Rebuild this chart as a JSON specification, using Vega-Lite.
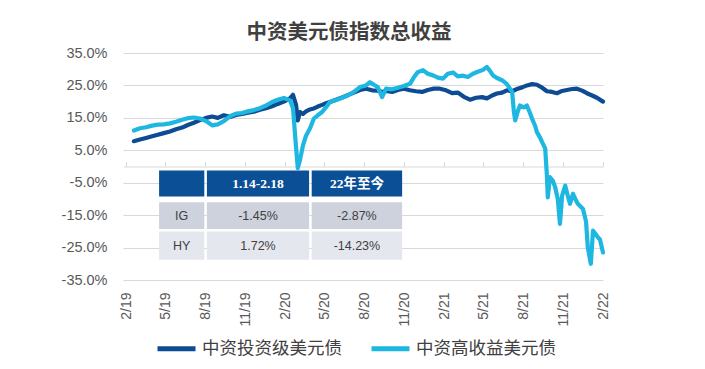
{
  "$schema": "https://vega.github.io/schema/vega-lite/v6.json",
  "width": 480,
  "height": 227,
  "autosize": {"type": "none"},
  "padding": {"left": 123, "top": 53, "right": 102, "bottom": 89},
  "background": "white",
  "config": {
    "view": {"stroke": null},
    "font": "Liberation Sans",
    "legend": {
      "orient": "none", "legendX": 32, "legendY": 274, "direction": "horizontal",
      "symbolType": "stroke", "symbolSize": 1444, "symbolStrokeWidth": 5,
      "labelFont": "Noto Sans CJK SC", "labelFontSize": 17.5, "labelColor": "#404040",
      "columnPadding": 19, "labelOffset": 4, "title": null
    }
  },
  "title": {
    "text": "中资美元债指数总收益", "font": "Noto Sans CJK SC", "fontSize": 20.5,
    "fontWeight": "bold", "color": "#404040", "anchor": "middle", "dx": -14, "offset": 2
  },
  "datasets": {
    "series": [
      {"date":"2019-03-07","s":"中资投资级美元债","v":7.8},
      {"date":"2019-03-21","s":"中资投资级美元债","v":8.3},
      {"date":"2019-04-04","s":"中资投资级美元债","v":8.8},
      {"date":"2019-04-18","s":"中资投资级美元债","v":9.3},
      {"date":"2019-05-01","s":"中资投资级美元债","v":9.8},
      {"date":"2019-05-15","s":"中资投资级美元债","v":10.3},
      {"date":"2019-05-29","s":"中资投资级美元债","v":10.8},
      {"date":"2019-06-12","s":"中资投资级美元债","v":11.5},
      {"date":"2019-06-26","s":"中资投资级美元债","v":12.0},
      {"date":"2019-07-09","s":"中资投资级美元债","v":12.8},
      {"date":"2019-07-23","s":"中资投资级美元债","v":13.5},
      {"date":"2019-08-06","s":"中资投资级美元债","v":14.3},
      {"date":"2019-08-20","s":"中资投资级美元债","v":15.0},
      {"date":"2019-09-03","s":"中资投资级美元债","v":15.4},
      {"date":"2019-09-16","s":"中资投资级美元债","v":15.0},
      {"date":"2019-09-30","s":"中资投资级美元债","v":15.8},
      {"date":"2019-10-14","s":"中资投资级美元债","v":15.3},
      {"date":"2019-10-28","s":"中资投资级美元债","v":15.9},
      {"date":"2019-11-11","s":"中资投资级美元债","v":16.2},
      {"date":"2019-11-24","s":"中资投资级美元债","v":16.6},
      {"date":"2019-12-08","s":"中资投资级美元债","v":16.9},
      {"date":"2019-12-22","s":"中资投资级美元债","v":17.5},
      {"date":"2020-01-05","s":"中资投资级美元债","v":18.0},
      {"date":"2020-01-19","s":"中资投资级美元债","v":18.6},
      {"date":"2020-02-01","s":"中资投资级美元债","v":19.3},
      {"date":"2020-02-15","s":"中资投资级美元债","v":20.0},
      {"date":"2020-02-29","s":"中资投资级美元债","v":21.0},
      {"date":"2020-03-07","s":"中资投资级美元债","v":22.1},
      {"date":"2020-03-14","s":"中资投资级美元债","v":19.0},
      {"date":"2020-03-18","s":"中资投资级美元债","v":14.2},
      {"date":"2020-03-23","s":"中资投资级美元债","v":16.8},
      {"date":"2020-03-30","s":"中资投资级美元债","v":16.2},
      {"date":"2020-04-06","s":"中资投资级美元债","v":17.0},
      {"date":"2020-04-15","s":"中资投资级美元债","v":17.6},
      {"date":"2020-04-24","s":"中资投资级美元债","v":17.9},
      {"date":"2020-05-03","s":"中资投资级美元债","v":18.5},
      {"date":"2020-05-13","s":"中资投资级美元债","v":19.0},
      {"date":"2020-05-22","s":"中资投资级美元债","v":19.5},
      {"date":"2020-05-31","s":"中资投资级美元债","v":19.9},
      {"date":"2020-06-14","s":"中资投资级美元债","v":20.6},
      {"date":"2020-06-28","s":"中资投资级美元债","v":21.3},
      {"date":"2020-07-11","s":"中资投资级美元债","v":22.0},
      {"date":"2020-07-25","s":"中资投资级美元债","v":22.8},
      {"date":"2020-08-08","s":"中资投资级美元债","v":23.6},
      {"date":"2020-08-22","s":"中资投资级美元债","v":24.0},
      {"date":"2020-09-05","s":"中资投资级美元债","v":23.5},
      {"date":"2020-09-18","s":"中资投资级美元债","v":23.4},
      {"date":"2020-09-28","s":"中资投资级美元债","v":23.0},
      {"date":"2020-10-07","s":"中资投资级美元债","v":23.3},
      {"date":"2020-10-21","s":"中资投资级美元债","v":23.0},
      {"date":"2020-11-03","s":"中资投资级美元债","v":23.6},
      {"date":"2020-11-17","s":"中资投资级美元债","v":24.0},
      {"date":"2020-12-01","s":"中资投资级美元债","v":23.5},
      {"date":"2020-12-15","s":"中资投资级美元债","v":23.2},
      {"date":"2020-12-29","s":"中资投资级美元债","v":23.0},
      {"date":"2021-01-11","s":"中资投资级美元债","v":23.6},
      {"date":"2021-01-25","s":"中资投资级美元债","v":24.0},
      {"date":"2021-02-08","s":"中资投资级美元债","v":24.0},
      {"date":"2021-02-22","s":"中资投资级美元债","v":23.5},
      {"date":"2021-03-08","s":"中资投资级美元债","v":22.6},
      {"date":"2021-03-21","s":"中资投资级美元债","v":22.8},
      {"date":"2021-04-04","s":"中资投资级美元债","v":21.5},
      {"date":"2021-04-18","s":"中资投资级美元债","v":20.6},
      {"date":"2021-05-02","s":"中资投资级美元债","v":21.2},
      {"date":"2021-05-16","s":"中资投资级美元债","v":21.4},
      {"date":"2021-05-27","s":"中资投资级美元债","v":21.0},
      {"date":"2021-06-08","s":"中资投资级美元债","v":21.9},
      {"date":"2021-06-19","s":"中资投资级美元债","v":22.5},
      {"date":"2021-07-01","s":"中资投资级美元债","v":22.8},
      {"date":"2021-07-12","s":"中资投资级美元债","v":23.5},
      {"date":"2021-07-24","s":"中资投资级美元债","v":23.2},
      {"date":"2021-08-06","s":"中资投资级美元债","v":24.0},
      {"date":"2021-08-16","s":"中资投资级美元债","v":24.4},
      {"date":"2021-08-27","s":"中资投资级美元债","v":25.0},
      {"date":"2021-09-08","s":"中资投资级美元债","v":25.4},
      {"date":"2021-09-19","s":"中资投资级美元债","v":25.2},
      {"date":"2021-10-01","s":"中资投资级美元债","v":24.3},
      {"date":"2021-10-12","s":"中资投资级美元债","v":23.2},
      {"date":"2021-10-24","s":"中资投资级美元债","v":23.0},
      {"date":"2021-11-04","s":"中资投资级美元债","v":22.6},
      {"date":"2021-11-16","s":"中资投资级美元债","v":23.3},
      {"date":"2021-11-27","s":"中资投资级美元债","v":23.6},
      {"date":"2021-12-09","s":"中资投资级美元债","v":23.9},
      {"date":"2021-12-20","s":"中资投资级美元债","v":24.0},
      {"date":"2022-01-01","s":"中资投资级美元债","v":23.4},
      {"date":"2022-01-12","s":"中资投资级美元债","v":22.6},
      {"date":"2022-01-24","s":"中资投资级美元债","v":21.9},
      {"date":"2022-02-04","s":"中资投资级美元债","v":21.2},
      {"date":"2022-02-18","s":"中资投资级美元债","v":20.0},
      {"date":"2019-03-07","s":"中资高收益美元债","v":11.1},
      {"date":"2019-03-21","s":"中资高收益美元债","v":11.8},
      {"date":"2019-04-04","s":"中资高收益美元债","v":12.1},
      {"date":"2019-04-18","s":"中资高收益美元债","v":12.6},
      {"date":"2019-05-01","s":"中资高收益美元债","v":12.9},
      {"date":"2019-05-15","s":"中资高收益美元债","v":13.0},
      {"date":"2019-05-29","s":"中资高收益美元债","v":13.3},
      {"date":"2019-06-12","s":"中资高收益美元债","v":13.8},
      {"date":"2019-06-26","s":"中资高收益美元债","v":14.4},
      {"date":"2019-07-09","s":"中资高收益美元债","v":14.9},
      {"date":"2019-07-23","s":"中资高收益美元债","v":15.1},
      {"date":"2019-08-06","s":"中资高收益美元债","v":14.8},
      {"date":"2019-08-20","s":"中资高收益美元债","v":14.0},
      {"date":"2019-09-03","s":"中资高收益美元债","v":12.7},
      {"date":"2019-09-16","s":"中资高收益美元债","v":13.0},
      {"date":"2019-09-30","s":"中资高收益美元债","v":14.0},
      {"date":"2019-10-14","s":"中资高收益美元债","v":15.5},
      {"date":"2019-10-28","s":"中资高收益美元债","v":16.3},
      {"date":"2019-11-11","s":"中资高收益美元债","v":16.5},
      {"date":"2019-11-24","s":"中资高收益美元债","v":17.0},
      {"date":"2019-12-08","s":"中资高收益美元债","v":17.4},
      {"date":"2019-12-22","s":"中资高收益美元债","v":18.0},
      {"date":"2020-01-05","s":"中资高收益美元债","v":18.8},
      {"date":"2020-01-19","s":"中资高收益美元债","v":19.9},
      {"date":"2020-02-01","s":"中资高收益美元债","v":20.6},
      {"date":"2020-02-15","s":"中资高收益美元债","v":21.1},
      {"date":"2020-02-29","s":"中资高收益美元债","v":20.4},
      {"date":"2020-03-07","s":"中资高收益美元债","v":18.0},
      {"date":"2020-03-14","s":"中资高收益美元债","v":6.0},
      {"date":"2020-03-18","s":"中资高收益美元债","v":-0.5},
      {"date":"2020-03-23","s":"中资高收益美元债","v":2.0},
      {"date":"2020-03-30","s":"中资高收益美元债","v":6.5},
      {"date":"2020-04-06","s":"中资高收益美元债","v":9.5},
      {"date":"2020-04-15","s":"中资高收益美元债","v":11.7},
      {"date":"2020-04-24","s":"中资高收益美元债","v":14.8},
      {"date":"2020-05-03","s":"中资高收益美元债","v":15.8},
      {"date":"2020-05-13","s":"中资高收益美元债","v":16.8},
      {"date":"2020-05-22","s":"中资高收益美元债","v":18.3},
      {"date":"2020-05-31","s":"中资高收益美元债","v":19.9},
      {"date":"2020-06-14","s":"中资高收益美元债","v":20.5},
      {"date":"2020-06-28","s":"中资高收益美元债","v":21.2},
      {"date":"2020-07-11","s":"中资高收益美元债","v":21.9},
      {"date":"2020-07-25","s":"中资高收益美元债","v":23.0},
      {"date":"2020-08-08","s":"中资高收益美元债","v":24.5},
      {"date":"2020-08-22","s":"中资高收益美元债","v":25.0},
      {"date":"2020-08-31","s":"中资高收益美元债","v":26.0},
      {"date":"2020-09-09","s":"中资高收益美元债","v":25.2},
      {"date":"2020-09-18","s":"中资高收益美元债","v":24.5},
      {"date":"2020-09-28","s":"中资高收益美元债","v":21.4},
      {"date":"2020-10-07","s":"中资高收益美元债","v":24.0},
      {"date":"2020-10-21","s":"中资高收益美元债","v":23.8},
      {"date":"2020-11-03","s":"中资高收益美元债","v":24.3},
      {"date":"2020-11-17","s":"中资高收益美元债","v":24.8},
      {"date":"2020-12-01","s":"中资高收益美元债","v":25.5},
      {"date":"2020-12-10","s":"中资高收益美元债","v":27.5},
      {"date":"2020-12-19","s":"中资高收益美元债","v":29.1},
      {"date":"2020-12-31","s":"中资高收益美元债","v":29.7},
      {"date":"2021-01-11","s":"中资高收益美元债","v":28.6},
      {"date":"2021-01-23","s":"中资高收益美元债","v":28.1},
      {"date":"2021-02-03","s":"中资高收益美元债","v":27.4},
      {"date":"2021-02-15","s":"中资高收益美元债","v":27.1},
      {"date":"2021-02-26","s":"中资高收益美元债","v":28.6},
      {"date":"2021-03-10","s":"中资高收益美元债","v":29.0},
      {"date":"2021-03-21","s":"中资高收益美元债","v":27.8},
      {"date":"2021-04-02","s":"中资高收益美元债","v":28.0},
      {"date":"2021-04-13","s":"中资高收益美元债","v":27.6},
      {"date":"2021-04-25","s":"中资高收益美元债","v":28.6},
      {"date":"2021-05-06","s":"中资高收益美元债","v":29.2},
      {"date":"2021-05-18","s":"中资高收益美元债","v":29.8},
      {"date":"2021-05-27","s":"中资高收益美元债","v":30.7},
      {"date":"2021-06-03","s":"中资高收益美元债","v":29.5},
      {"date":"2021-06-10","s":"中资高收益美元债","v":28.1},
      {"date":"2021-06-19","s":"中资高收益美元债","v":27.3},
      {"date":"2021-07-01","s":"中资高收益美元债","v":26.6},
      {"date":"2021-07-12","s":"中资高收益美元债","v":25.4},
      {"date":"2021-07-19","s":"中资高收益美元债","v":24.0},
      {"date":"2021-07-24","s":"中资高收益美元债","v":23.0},
      {"date":"2021-07-28","s":"中资高收益美元债","v":17.0},
      {"date":"2021-07-31","s":"中资高收益美元债","v":14.2},
      {"date":"2021-08-06","s":"中资高收益美元债","v":17.0},
      {"date":"2021-08-11","s":"中资高收益美元债","v":18.8},
      {"date":"2021-08-20","s":"中资高收益美元债","v":18.2},
      {"date":"2021-08-27","s":"中资高收益美元债","v":18.8},
      {"date":"2021-09-03","s":"中资高收益美元债","v":16.5},
      {"date":"2021-09-08","s":"中资高收益美元债","v":14.7},
      {"date":"2021-09-15","s":"中资高收益美元债","v":12.5},
      {"date":"2021-09-19","s":"中资高收益美元债","v":10.6},
      {"date":"2021-09-26","s":"中资高收益美元债","v":9.0},
      {"date":"2021-10-01","s":"中资高收益美元债","v":7.5},
      {"date":"2021-10-08","s":"中资高收益美元债","v":5.6},
      {"date":"2021-10-12","s":"中资高收益美元债","v":-2.8},
      {"date":"2021-10-14","s":"中资高收益美元债","v":-9.5},
      {"date":"2021-10-19","s":"中资高收益美元债","v":-3.3},
      {"date":"2021-10-26","s":"中资高收益美元债","v":-4.5},
      {"date":"2021-10-31","s":"中资高收益美元债","v":-6.4},
      {"date":"2021-11-06","s":"中资高收益美元债","v":-10.0},
      {"date":"2021-11-11","s":"中资高收益美元债","v":-17.7},
      {"date":"2021-11-16","s":"中资高收益美元债","v":-9.0},
      {"date":"2021-11-23","s":"中资高收益美元债","v":-5.9},
      {"date":"2021-11-29","s":"中资高收益美元债","v":-9.0},
      {"date":"2021-12-04","s":"中资高收益美元债","v":-11.5},
      {"date":"2021-12-11","s":"中资高收益美元债","v":-8.4},
      {"date":"2021-12-18","s":"中资高收益美元债","v":-10.5},
      {"date":"2021-12-22","s":"中资高收益美元债","v":-11.5},
      {"date":"2022-01-03","s":"中资高收益美元债","v":-13.1},
      {"date":"2022-01-10","s":"中资高收益美元债","v":-17.0},
      {"date":"2022-01-14","s":"中资高收益美元债","v":-24.9},
      {"date":"2022-01-21","s":"中资高收益美元债","v":-30.0},
      {"date":"2022-01-26","s":"中资高收益美元债","v":-19.8},
      {"date":"2022-02-02","s":"中资高收益美元债","v":-21.0},
      {"date":"2022-02-06","s":"中资高收益美元债","v":-21.8},
      {"date":"2022-02-11","s":"中资高收益美元债","v":-22.5},
      {"date":"2022-02-18","s":"中资高收益美元债","v":-26.5}
    ],
    "table": [
      {"row":"header","col":"label","text":"","from":"2019-05-04","to":"2019-08-16","top":-1.24,"bottom":-9.27},
      {"row":"header","col":"p1","text":"1.14-2.18","from":"2019-08-22","to":"2020-04-13","top":-1.24,"bottom":-9.27},
      {"row":"header","col":"p2","text":"22年至今","from":"2020-04-19","to":"2020-11-13","top":-1.24,"bottom":-9.27},
      {"row":"IG","col":"label","text":"IG","from":"2019-05-04","to":"2019-08-16","top":-11.03,"bottom":-19.25},
      {"row":"IG","col":"p1","text":"-1.45%","from":"2019-08-22","to":"2020-04-13","top":-11.03,"bottom":-19.25},
      {"row":"IG","col":"p2","text":"-2.87%","from":"2020-04-19","to":"2020-11-13","top":-11.03,"bottom":-19.25},
      {"row":"HY","col":"label","text":"HY","from":"2019-05-04","to":"2019-08-16","top":-20.08,"bottom":-28.73},
      {"row":"HY","col":"p1","text":"1.72%","from":"2019-08-22","to":"2020-04-13","top":-20.08,"bottom":-28.73},
      {"row":"HY","col":"p2","text":"-14.23%","from":"2020-04-19","to":"2020-11-13","top":-20.08,"bottom":-28.73}
    ]
  },
  "resolve": {"axis": {"x": "independent"}},
  "layer": [
    {
      "data": {"name": "series"},
      "mark": {"type": "line", "strokeWidth": 4.2, "strokeJoin": "round", "strokeCap": "round"},
      "encoding": {
        "x": {
          "field": "date", "type": "temporal", "title": null,
          "scale": {"type": "utc", "domain": [{"year":2019,"month":2,"date":10,"utc":true},{"year":2022,"month":2,"date":18,"utc":true}]},
          "axis": {
            "orient": "bottom", "tickCount": 13,
            "values": [
              {"year":2019,"month":2,"date":18,"utc":true},{"year":2019,"month":5,"date":18,"utc":true},
              {"year":2019,"month":8,"date":18,"utc":true},{"year":2019,"month":11,"date":18,"utc":true},
              {"year":2020,"month":2,"date":18,"utc":true},{"year":2020,"month":5,"date":18,"utc":true},
              {"year":2020,"month":8,"date":18,"utc":true},{"year":2020,"month":11,"date":18,"utc":true},
              {"year":2021,"month":2,"date":18,"utc":true},{"year":2021,"month":5,"date":18,"utc":true},
              {"year":2021,"month":8,"date":18,"utc":true},{"year":2021,"month":11,"date":18,"utc":true},
              {"year":2022,"month":2,"date":18,"utc":true}
            ],
            "labelExpr": "utcFormat(datum.value, '%-m/%y')",
            "labelAngle": -90, "labelPadding": 12, "labelFontSize": 14, "labelColor": "#595959",
            "labelOverlap": false, "domain": false, "ticks": false, "grid": false, "title": null
          }
        },
        "y": {
          "field": "v", "type": "quantitative", "title": null,
          "scale": {"domain": [-35, 35], "nice": false, "zero": false},
          "axis": {
            "values": [-35, -25, -15, -5, 5, 15, 25, 35], "tickCount": 8,
            "labelExpr": "(datum.value < 0 ? '-' : '') + format(abs(datum.value), '.1f') + '%'",
            "grid": true, "gridColor": "#d9d9d9", "domain": false, "ticks": false,
            "labelOverlap": false, "labelPadding": 16, "labelFontSize": 14.5, "labelColor": "#595959", "title": null
          }
        },
        "color": {
          "field": "s", "type": "nominal",
          "scale": {"domain": ["中资投资级美元债", "中资高收益美元债"], "range": ["#0d4c92", "#1db7e2"]},
          "legend": {"title": null}
        }
      }
    },
    {
      "data": {"name": "table"},
      "mark": {"type": "rect"},
      "encoding": {
        "x": {
          "field": "from", "type": "temporal", "title": null,
          "axis": {
            "orient": "top", "offset": -113.5, "tickCount": 13,
            "values": [
              {"year":2019,"month":2,"date":18,"utc":true},{"year":2019,"month":5,"date":18,"utc":true},
              {"year":2019,"month":8,"date":18,"utc":true},{"year":2019,"month":11,"date":18,"utc":true},
              {"year":2020,"month":2,"date":18,"utc":true},{"year":2020,"month":5,"date":18,"utc":true},
              {"year":2020,"month":8,"date":18,"utc":true},{"year":2020,"month":11,"date":18,"utc":true},
              {"year":2021,"month":2,"date":18,"utc":true},{"year":2021,"month":5,"date":18,"utc":true},
              {"year":2021,"month":8,"date":18,"utc":true},{"year":2021,"month":11,"date":18,"utc":true},
              {"year":2022,"month":2,"date":18,"utc":true}
            ],
            "labels": false, "ticks": true, "tickSize": 5, "tickColor": "#d9d9d9",
            "domain": true, "domainColor": "#d9d9d9", "grid": false, "title": null
          }
        },
        "x2": {"field": "to"},
        "y": {"field": "top", "type": "quantitative", "title": null},
        "y2": {"field": "bottom"},
        "fill": {
          "condition": [
            {"test": "datum.row === 'header'", "value": "#0b4f96"},
            {"test": "datum.row === 'IG'", "value": "#cdd2dd"}
          ],
          "value": "#e4e7ee"
        }
      }
    },
    {
      "data": {"name": "table"},
      "transform": [
        {"filter": "datum.row === 'header'"},
        {"calculate": "(toDate(datum.from) + toDate(datum.to)) / 2", "as": "xm"},
        {"calculate": "(datum.top + datum.bottom) / 2", "as": "ym"}
      ],
      "mark": {"type": "text", "font": "Liberation Serif, Noto Sans CJK SC", "fontWeight": "bold", "fontSize": 13.5, "color": "white", "align": "center", "baseline": "middle"},
      "encoding": {
        "x": {"field": "xm", "type": "temporal", "axis": null, "title": null},
        "y": {"field": "ym", "type": "quantitative", "title": null},
        "text": {"field": "text"}
      }
    },
    {
      "data": {"name": "table"},
      "transform": [
        {"filter": "datum.row !== 'header'"},
        {"calculate": "(toDate(datum.from) + toDate(datum.to)) / 2", "as": "xm"},
        {"calculate": "(datum.top + datum.bottom) / 2", "as": "ym"}
      ],
      "mark": {"type": "text", "font": "Liberation Sans", "fontSize": 12.5, "color": "#404040", "align": "center", "baseline": "middle"},
      "encoding": {
        "x": {"field": "xm", "type": "temporal", "axis": null, "title": null},
        "y": {"field": "ym", "type": "quantitative", "title": null},
        "text": {"field": "text"}
      }
    }
  ]
}
